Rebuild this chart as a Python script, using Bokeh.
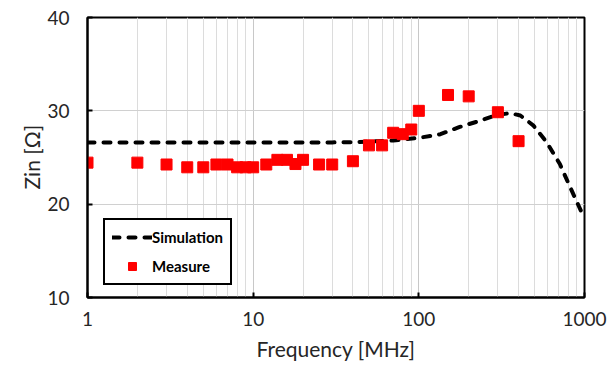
from bokeh.plotting import figure
from bokeh.models import FixedTicker, Legend, LegendItem, Range1d
from bokeh.embed import file_html
from bokeh.resources import INLINE

# Simulation curve (frequency in MHz, Zin in ohm)
sim_freq = [1, 2, 5, 10, 20, 30, 40, 50, 70, 100, 135, 175, 235, 295, 355, 410, 490, 590, 710, 820, 960, 1000]
sim_zin = [26.6, 26.6, 26.6, 26.6, 26.6, 26.62, 26.65, 26.7, 26.82, 27.1, 27.5, 28.25, 28.95, 29.55, 29.75,
           29.5, 28.45, 26.65, 24.3, 21.8, 19.15, 18.7]

# Measured points
meas_freq = [1, 2, 3, 4, 5, 6, 7, 8, 9, 10, 12, 14, 16, 18, 20, 25, 30, 40, 50, 60, 70, 80, 90, 100,
             150, 200, 300, 400]
meas_zin = [24.45, 24.45, 24.25, 23.95, 23.95, 24.25, 24.25, 23.95, 23.95, 23.95, 24.25, 24.75, 24.75, 24.3,
            24.75, 24.25, 24.25, 24.6, 26.3, 26.3, 27.65, 27.5, 28.0, 30.0, 31.7, 31.55, 29.85, 26.75]

x_ticks = [1, 10, 100, 1000]
x_minor = [m * d for d in (1, 10, 100) for m in range(2, 10)]
y_ticks = [10, 20, 30, 40]

FONT = "Lato"
TXT = "#262626"

p = figure(width=615, height=368, x_axis_type="log",
           x_range=Range1d(1, 1000), y_range=Range1d(10, 40),
           output_backend="svg", toolbar_location=None,
           min_border_left=87, min_border_right=31, min_border_top=17, min_border_bottom=71)

p.background_fill_color = "white"
p.border_fill_color = "white"
p.outline_line_color = "black"
p.outline_line_width = 2
p.outline_line_alpha = 1

p.xaxis.ticker = FixedTicker(ticks=x_ticks, minor_ticks=x_minor)
p.xaxis.major_label_overrides = {t: str(t) for t in x_ticks}
p.yaxis.ticker = FixedTicker(ticks=y_ticks)

for ax in (p.xaxis, p.yaxis):
    ax.axis_line_color = "black"
    ax.axis_line_width = 2
    ax.major_tick_in = 5
    ax.major_tick_out = 0
    ax.major_tick_line_width = 2
    ax.minor_tick_line_color = None
    ax.major_label_text_font = FONT
    ax.major_label_text_font_size = "19px"
    ax.major_label_text_color = TXT
    ax.axis_label_text_font = FONT
    ax.axis_label_text_font_size = "21px"
    ax.axis_label_text_font_style = "normal"
    ax.axis_label_text_color = TXT

p.xaxis.axis_label = "Frequency [MHz]"
p.yaxis.axis_label = "Zin [Ω]"
p.xaxis.major_label_standoff = 10
p.yaxis.major_label_standoff = 18
p.xaxis.axis_label_standoff = 7
p.yaxis.axis_label_standoff = 0

p.xgrid.grid_line_color = "#c8c8c8"
p.xgrid.minor_grid_line_color = "#dcdcdc"
p.ygrid.grid_line_color = "#d0d0d0"

sim = p.line(sim_freq, sim_zin, line_color="black", line_width=4, line_dash="7 9", line_cap="round")
meas = p.scatter(meas_freq, meas_zin, marker="square", size=11, fill_color="red", line_color="red")

legend = Legend(items=[LegendItem(label="Simulation", renderers=[sim]),
                       LegendItem(label="Measure", renderers=[meas])],
                location=(16, 12))
legend.border_line_color = "black"
legend.border_line_width = 2
legend.border_line_alpha = 1
legend.background_fill_color = "white"
legend.background_fill_alpha = 1
legend.label_text_font = FONT
legend.label_text_font_style = "bold"
legend.label_text_font_size = "15px"
legend.label_text_color = "black"
legend.glyph_width = 40
legend.glyph_height = 20
legend.label_height = 20
legend.label_standoff = 0
legend.spacing = 9
legend.padding = 7
legend.margin = 0
p.add_layout(legend)

open("out.html", "w").write(file_html(p, INLINE))
